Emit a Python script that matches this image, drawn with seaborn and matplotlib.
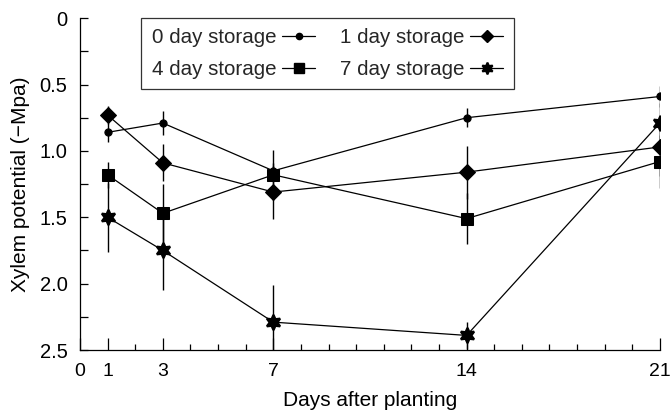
import numpy as np
import pandas as pd
import matplotlib
matplotlib.use("Agg")
import matplotlib.pyplot as plt
import seaborn as sns
from matplotlib.ticker import MultipleLocator, FixedLocator

# Sampling days after planting
days = [1, 3, 7, 14, 21]

# Mean xylem potential (-MPa) per storage treatment
storage_0 = [0.86, 0.79, 1.15, 0.75, 0.59]
storage_1 = [0.73, 1.09, 1.31, 1.16, 0.97]
storage_4 = [1.18, 1.47, 1.18, 1.51, 1.08]
storage_7 = [1.50, 1.75, 2.29, 2.39, 0.79]

# Error bar half-lengths
err_0 = [0.07, 0.09, 0.06, 0.07, 0.08]
err_1 = [0.07, 0.14, 0.20, 0.20, 0.22]
err_4 = [0.10, 0.22, 0.19, 0.19, 0.20]
err_7 = [0.26, 0.30, 0.28, 0.10, 0.15]

labels = ["0 day storage", "1 day storage", "4 day storage", "7 day storage"]
means = [storage_0, storage_1, storage_4, storage_7]
errs = [err_0, err_1, err_4, err_7]

df = pd.DataFrame({
    "day": np.tile(days, len(labels)),
    "potential": np.concatenate(means),
    "err": np.concatenate(errs),
    "treatment": np.repeat(labels, len(days)),
})

sns.set_theme(style="ticks")
plt.rcParams["font.family"] = ["Liberation Sans", "DejaVu Sans"]

fig = plt.figure(figsize=(6.72, 4.13), dpi=100)
ax = fig.add_axes([0.119, 0.1525, 0.863, 0.8035])

markers = {
    "0 day storage": "o",
    "1 day storage": "D",
    "4 day storage": "s",
    "7 day storage": (6, 1, 0),
}
sizes = {"0 day storage": 5.2, "1 day storage": 8.3, "4 day storage": 8.8, "7 day storage": 11}
leg_sizes = {"0 day storage": 4.5, "1 day storage": 6, "4 day storage": 7, "7 day storage": 8.5}

# error bars, drawn beneath the markers
for lab in labels:
    sub = df[df.treatment == lab]
    ax.vlines(sub.day, sub.potential - sub.err, sub.potential + sub.err,
              color="black", lw=1.0, zorder=2)

sns.lineplot(data=df, x="day", y="potential", hue="treatment", style="treatment",
             palette=["black"] * 4, markers=markers, dashes=False,
             errorbar=None, lw=0.9, ax=ax, legend=False, zorder=3)
for line, lab in zip(ax.lines, labels):
    line.set_markersize(sizes[lab])
    line.set_markeredgecolor("black")
    line.set_markerfacecolor("black")
    if lab == "7 day storage":
        line.set_markeredgewidth(1.6)

ax.set_xlim(0, 21)
ax.set_ylim(2.5, 0)

ax.xaxis.set_major_locator(FixedLocator([0, 1, 3, 7, 14, 21]))
ax.xaxis.set_minor_locator(MultipleLocator(1))
ax.yaxis.set_minor_locator(MultipleLocator(0.25))
ax.set_yticks([0, 0.5, 1.0, 1.5, 2.0, 2.5])
ax.set_yticklabels(["0", "0.5", "1.0", "1.5", "2.0", "2.5"])

ax.tick_params(axis="x", which="major", direction="in", length=9, width=0.9,
               labelsize=14, pad=9, color="black", labelcolor="black")
ax.tick_params(axis="x", which="minor", direction="in", length=4.5, width=0.9, color="black")
ax.tick_params(axis="y", which="both", direction="in", length=5.5, width=0.9,
               labelsize=14.5, pad=9, color="black", labelcolor="black")

for s in ["top", "right"]:
    ax.spines[s].set_visible(False)
for s in ["left", "bottom"]:
    ax.spines[s].set_linewidth(0.9)
    ax.spines[s].set_color("black")

ax.set_xlabel("Days after planting", fontsize=15, color="black", labelpad=8)
ax.set_ylabel("Xylem potential (\u2212Mpa)", fontsize=15, color="black", labelpad=7)

# legend: two columns, text before marker
handles = []
for lab in labels:
    h, = ax.plot([], [], color="black", lw=0.9, marker=markers[lab],
                 markersize=leg_sizes[lab], markerfacecolor="black",
                 markeredgecolor="black",
                 markeredgewidth=1.4 if lab == "7 day storage" else 1.0)
    handles.append(h)
order = [0, 2, 1, 3]
leg = ax.legend([handles[i] for i in order], [labels[i] for i in order],
                ncol=2, markerfirst=False, loc="upper left",
                bbox_to_anchor=(0.106, 1.0), frameon=True, fancybox=False,
                edgecolor="black", fontsize=14.8, handlelength=1.6,
                handletextpad=0.3, columnspacing=1.2, borderpad=0.5,
                labelspacing=0.6, borderaxespad=0.0)
leg.get_frame().set_linewidth(0.9)

fig.savefig("out.png", dpi=100)
